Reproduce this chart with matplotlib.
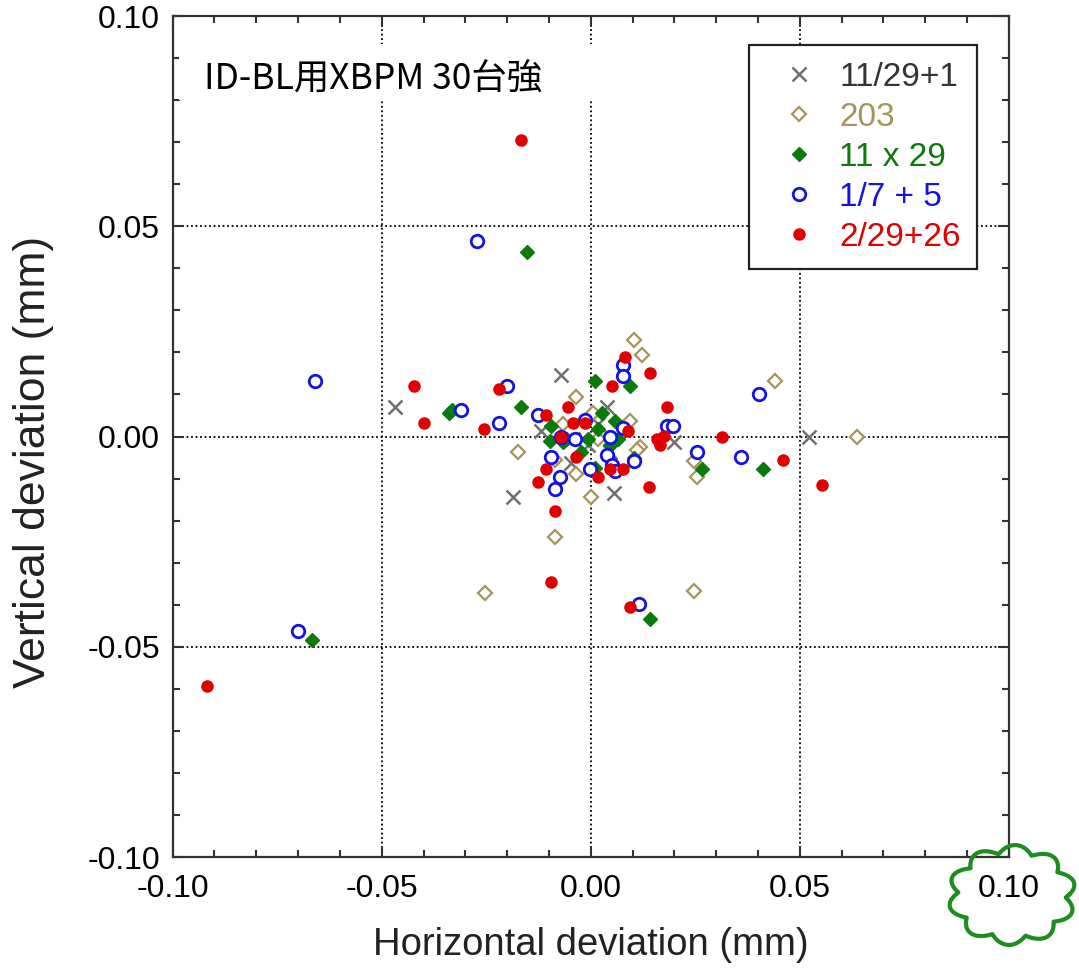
import matplotlib
matplotlib.use('Agg')
import matplotlib.pyplot as plt
import numpy as np
from matplotlib.lines import Line2D
from matplotlib.patches import Rectangle
from matplotlib.ticker import MultipleLocator

plt.rcParams['font.family'] = ['Liberation Sans', 'Noto Sans CJK JP', 'DejaVu Sans']

# deviations in mm
x_11_29 = [-0.0467, -0.0071, -0.0185, 0.0055, 0.0521, -0.0118, 0.0040, 0.0199,
           -0.0047, 0.0017, -0.0007, 0.0045, -0.0043]
y_11_29 = [0.0071, 0.0147, -0.0145, -0.0135, 0.0000, 0.0014, 0.0069, -0.0012,
           -0.0062, 0.0029, -0.0019, -0.0036, -0.0007]

x_203 = [0.0104, 0.0123, -0.0036, -0.0173, 0.0095, 0.0118, -0.0036, 0.0000,
         0.0005, 0.0246, 0.0254, -0.0085, -0.0254, 0.0246, 0.0637, 0.0441,
         -0.0085, -0.0066, 0.0017, 0.0111]
y_203 = [0.0230, 0.0195, 0.0095, -0.0038, 0.0036, -0.0026, -0.0090, -0.0145,
         0.0057, -0.0059, -0.0097, -0.0240, -0.0373, -0.0368, 0.0000, 0.0131,
         -0.0055, 0.0029, -0.0007, -0.0031]

x_11x29 = [-0.0152, -0.0339, -0.0332, -0.0166, 0.0009, 0.0095, -0.0095, -0.0097,
           0.0028, 0.0059, -0.0007, -0.0024, 0.0045, 0.0104, -0.0066, 0.0009,
           0.0265, 0.0412, 0.0142, -0.0666, 0.0017, 0.0064]
y_11x29 = [0.0439, 0.0057, 0.0064, 0.0069, 0.0131, 0.0119, 0.0024, -0.0010,
           0.0055, 0.0036, -0.0007, -0.0038, -0.0019, -0.0050, -0.0014, -0.0074,
           -0.0078, -0.0078, -0.0435, -0.0485, 0.0017, -0.0007]

x_1_7 = [-0.0273, -0.0659, -0.0201, -0.0310, -0.0220, -0.0126, 0.0076, 0.0076,
         0.0403, 0.0360, 0.0254, 0.0182, 0.0197, 0.0116, -0.0699, -0.0071,
         -0.0095, -0.0073, -0.0085, -0.0038, -0.0002, 0.0047, 0.0040, 0.0052,
         0.0104, 0.0076, -0.0014, 0.0057]
y_1_7 = [0.0466, 0.0131, 0.0119, 0.0062, 0.0033, 0.0052, 0.0171, 0.0143,
         0.0102, -0.0048, -0.0038, 0.0024, 0.0024, -0.0399, -0.0463, -0.0002,
         -0.0048, -0.0097, -0.0126, -0.0007, -0.0078, 0.0000, -0.0043, -0.0067,
         -0.0059, 0.0021, 0.0040, -0.0083]

x_2_29 = [-0.0166, -0.0422, -0.0398, -0.0256, -0.0220, -0.0107, 0.0081, 0.0142,
          0.0052, 0.0182, 0.0313, 0.0460, 0.0552, 0.0140, -0.0126, -0.0107,
          -0.0085, -0.0095, 0.0095, -0.0917, 0.0159, 0.0166, 0.0175, -0.0055,
          -0.0043, -0.0014, -0.0071, 0.0088, -0.0036, 0.0017, 0.0047, 0.0076]
y_2_29 = [0.0705, 0.0121, 0.0033, 0.0017, 0.0112, 0.0052, 0.0190, 0.0152,
          0.0119, 0.0069, 0.0000, -0.0057, -0.0116, -0.0119, -0.0109, -0.0078,
          -0.0178, -0.0347, -0.0406, -0.0594, -0.0007, -0.0019, 0.0002, 0.0069,
          0.0033, 0.0033, 0.0000, 0.0012, -0.0048, -0.0097, -0.0078, -0.0078]

labels = ['11/29+1', '203', '11 x 29', '1/7 + 5', '2/29+26']
colors = ['#707070', '#A8945A', '#0A7A0A', '#1414E0', '#E00000']

fig = plt.figure(figsize=(10.79, 9.71), dpi=100)
ax = fig.add_axes([0.160, 0.1174, 0.775, 0.8661])

ax.plot(x_11_29, y_11_29, 'x', color=colors[0], ms=10, mew=1.8, label=labels[0])
ax.plot(x_203, y_203, 'D', color=colors[1], mfc='white', ms=7, mew=1.6, label=labels[1])
ax.plot(x_11x29, y_11x29, 'D', color=colors[2], ms=7.5, label=labels[2])
ax.plot(x_1_7, y_1_7, 'o', color=colors[3], mfc='white', ms=9, mew=2, label=labels[3])
ax.plot(x_2_29, y_2_29, 'o', color=colors[4], ms=8, label=labels[4])

ax.set_xlim(-0.10, 0.10)
ax.set_ylim(-0.10, 0.10)
ax.xaxis.set_major_locator(MultipleLocator(0.05))
ax.yaxis.set_major_locator(MultipleLocator(0.05))
ax.xaxis.set_minor_locator(MultipleLocator(0.01))
ax.yaxis.set_minor_locator(MultipleLocator(0.01))
ax.xaxis.set_major_formatter(plt.FuncFormatter(lambda v, p: f'{v:.2f}'))
ax.yaxis.set_major_formatter(plt.FuncFormatter(lambda v, p: f'{v:.2f}'))
ax.tick_params(which='both', direction='in', top=True, right=True, color='#333333', width=1.5)
ax.tick_params(which='major', length=8, labelsize=23, pad=12)
ax.tick_params(which='minor', length=5)
ax.tick_params(axis='y', which='major', pad=9)
for s in ax.spines.values():
    s.set_linewidth(1.6)
    s.set_color('#333333')
ax.grid(True, which='major', linestyle=(0, (1, 1.5)), color='black', linewidth=1.3)
ax.set_axisbelow(True)

ax.set_xlabel('Horizontal deviation (mm)', fontsize=27.5, labelpad=17, color='#222222')
ax.set_ylabel('Vertical deviation (mm)', fontsize=32, color='#222222')
ax.yaxis.set_label_coords(-0.142, 0.47)

# white box behind the note so the grid does not show through
ax.add_patch(Rectangle((0.008, 0.900), 0.505, 0.067, transform=ax.transAxes,
                       facecolor='white', edgecolor='none', zorder=1.5))
ax.text(0.038, 0.925, 'ID-BL用XBPM 30台強', transform=ax.transAxes, fontsize=25.5,
        family=['Noto Sans CJK JP', 'DejaVu Sans'], va='center', ha='left', zorder=2)

leg = ax.legend(loc='upper left', bbox_to_anchor=(749 / 1079, 1 - 45 / 971),
                bbox_transform=fig.transFigure, borderaxespad=0, fontsize=24,
                numpoints=1, handlelength=2.0, handletextpad=0.2, borderpad=0.5,
                labelspacing=0.27, fancybox=False, framealpha=1, edgecolor='#222222')
leg.get_frame().set_linewidth(1.6)
for t, c in zip(leg.get_texts(), colors):
    t.set_color('#333333' if c == colors[0] else c)

# green cloud drawn round the 0.10 tick label
th = np.linspace(0, 2 * np.pi, 1200)
r = 0.84 + 0.16 * np.abs(np.sin(5 * th + 0.3))
cx, cy = 1012 / 1079, 1 - 895 / 971
fig.add_artist(Line2D(cx + (64 / 1079) * r * np.cos(th), cy + (50 / 971) * r * np.sin(th),
                      transform=fig.transFigure, color='#1E8C1E', linewidth=3))

fig.savefig('out.png', dpi=100)
